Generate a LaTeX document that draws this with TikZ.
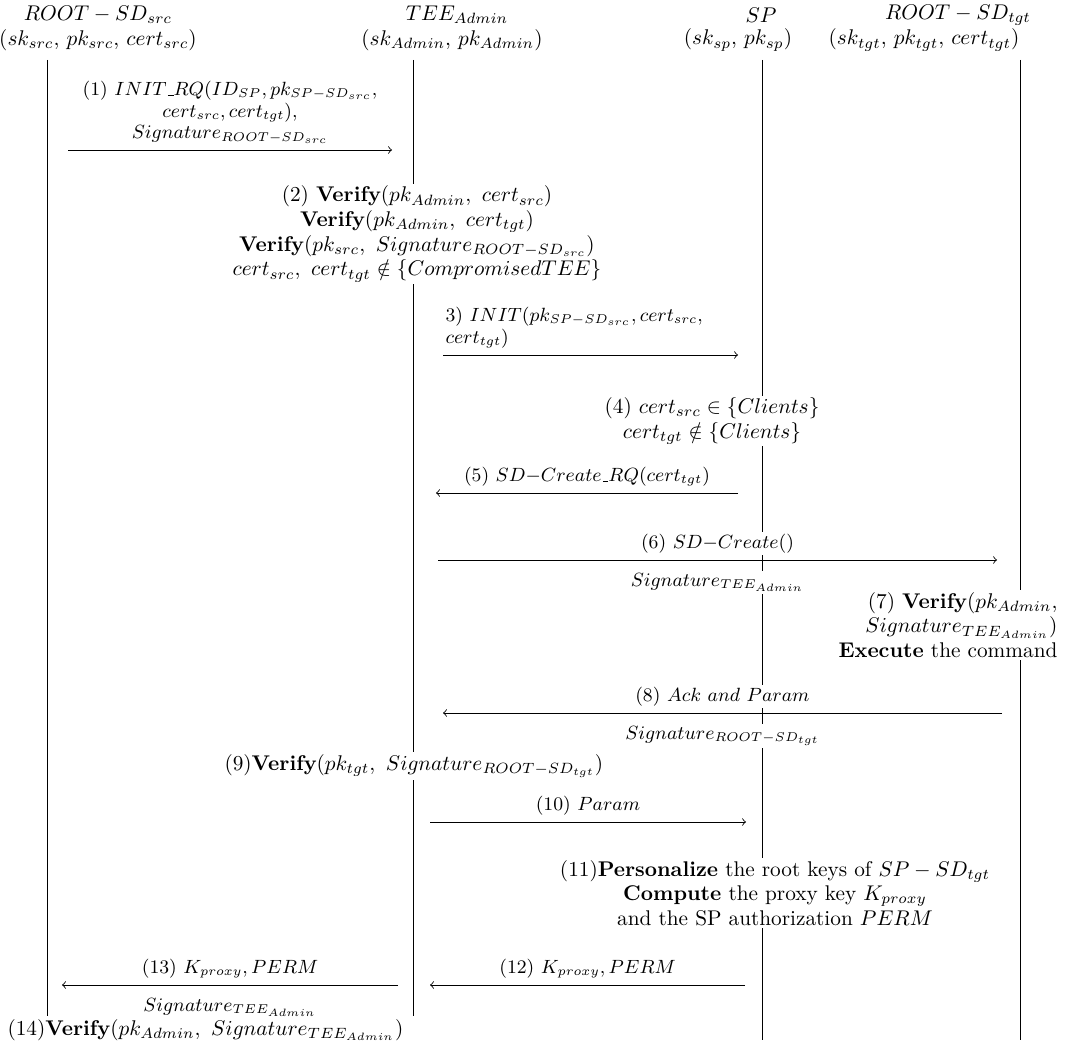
\documentclass[tikz,border=0pt]{standalone}
\usepackage{amsmath, amssymb}
\usetikzlibrary{positioning}

\newcommand{\usbar}{\kern.06em\vbox{\hrule width.3em}}

\tikzset{
  msg/.style={->},
  msglbl/.style={font=\fontsize{9}{10.2}\selectfont, fill=white, inner sep=1pt},
  stepbox/.style={font=\fontsize{10}{11.6}\selectfont, fill=white, align=center, inner sep=1pt},
}

\begin{document}
\begin{tikzpicture}[x=0.47pt,y=-0.47pt]
\useasboundingbox (0,0) rectangle (1070,1046);

% participants
\node (src)  at (98,15)  {$ROOT-SD_{src}$};
\node (srck) at (98,40)  {$(sk_{src},\,pk_{src},\,cert_{src})$};
\node (tee)  at (457,15) {$TEE_{Admin}$};
\node (teek) at (452,40) {$(sk_{Admin},\,pk_{Admin})$};
\node (sp)   at (761,15) {$SP$};
\node (spk)  at (738,40) {$(sk_{sp},\,pk_{sp})$};
\node (tgt)  at (958,15) {$ROOT-SD_{tgt}$};
\node (tgtk) at (924,40) {$(sk_{tgt},\,pk_{tgt},\,cert_{tgt})$};

% lifelines
\coordinate (srcT) at (47,60);   \coordinate (srcB) at (47,1016);
\coordinate (teeT) at (413,60);  \coordinate (teeB) at (413,1016);
\coordinate (spT)  at (762,60);  \coordinate (spB)  at (762,1040);
\coordinate (tgtT) at (1020,60); \coordinate (tgtB) at (1020,1040);
\draw (srcT) -- (srcB);
\draw (teeT) -- (teeB);
\draw (spT) -- (spB);
\draw (tgtT) -- (tgtB);

% (1)
\coordinate (m1a) at (68,150); \coordinate (m1b) at (392,150);
\draw[msg] (m1a) -- (m1b) node[midway,above=2pt,msglbl,align=center] (l1)
  {(1) $INIT\usbar RQ(ID_{SP},pk_{SP-SD_{src}},$\\$cert_{src},cert_{tgt}),$\\$Signature_{ROOT-SD_{src}}$};

% (2)
\node[stepbox] (v2) at (417,234) {(2) \textbf{Verify}$(pk_{Admin},\ cert_{src})$\\
  \textbf{Verify}$(pk_{Admin},\ cert_{tgt})$\\
  \textbf{Verify}$(pk_{src},\ Signature_{ROOT-SD_{src}})$\\
  $cert_{src},\ cert_{tgt}\notin\{CompromisedTEE\}$};

% (3)
\coordinate (m3a) at (443,355); \coordinate (m3b) at (738,355);
\draw[msg] (m3a) -- (m3b) node[at start,above right=2pt and 0pt,msglbl,align=left] (l3)
  {3) $INIT(pk_{SP-SD_{src}},cert_{src},$\\$cert_{tgt})$};

% (4)
\node[stepbox] (v4) at (712,421) {(4) $cert_{src}\in\{Clients\}$\\$cert_{tgt}\notin\{Clients\}$};

% (5)
\coordinate (m5a) at (738,493); \coordinate (m5b) at (436,493);
\draw[msg] (m5a) -- (m5b) node[midway,above=2pt,msglbl] (l5) {(5) $SD{-}Create\usbar RQ(cert_{tgt})$};

% (6)
\coordinate (m6a) at (438,560); \coordinate (m6b) at (997,560);
\draw[msg] (m6a) -- (m6b) node[midway,above=2pt,msglbl] (l6) {(6) $SD{-}Create()$}
  node[midway,below=5pt,msglbl] (s6) {$Signature_{TEE_{Admin}}$};

% (7)
\node[stepbox,align=right,anchor=east] (v7) at (1060,625) {(7) \textbf{Verify}$(pk_{Admin},$\\
  $Signature_{TEE_{Admin}})$\\\textbf{Execute} the command};

% (8)
\coordinate (m8a) at (1002,713); \coordinate (m8b) at (443,713);
\draw[msg] (m8a) -- (m8b) node[midway,above=2pt,msglbl] (l8) {(8) $Ack\ and\ Param$}
  node[midway,below=5pt,msglbl] (s8) {$Signature_{ROOT-SD_{tgt}}$};

% (9)
\node[stepbox,anchor=west] (v9) at (222,766) {(9)\textbf{Verify}$(pk_{tgt},\ Signature_{ROOT-SD_{tgt}})$};

% (10)
\coordinate (m10a) at (430,822); \coordinate (m10b) at (746,822);
\draw[msg] (m10a) -- (m10b) node[midway,above=2pt,msglbl] (l10) {(10) $Param$};

% (11)
\node[stepbox] (v11) at (775,893) {(11)\textbf{Personalize} the root keys of $SP-SD_{tgt}$\\
  \textbf{Compute} the proxy key $K_{proxy}$\\and the SP authorization $PERM$};

% (12) and (13)
\coordinate (m12a) at (745,985); \coordinate (m12b) at (430,985);
\draw[msg] (m12a) -- (m12b) node[midway,above=2pt,msglbl] (l12) {(12) $K_{proxy},PERM$};
\coordinate (m13a) at (398,985); \coordinate (m13b) at (62,985);
\draw[msg] (m13a) -- (m13b) node[midway,above=2pt,msglbl] (l13) {(13) $K_{proxy},PERM$}
  node[midway,below=5pt,msglbl] (s13) {$Signature_{TEE_{Admin}}$};

% (14)
\node[stepbox,anchor=west] (v14) at (5,1030) {(14)\textbf{Verify}$(pk_{Admin},\ Signature_{TEE_{Admin}})$};
\end{tikzpicture}
\end{document}
